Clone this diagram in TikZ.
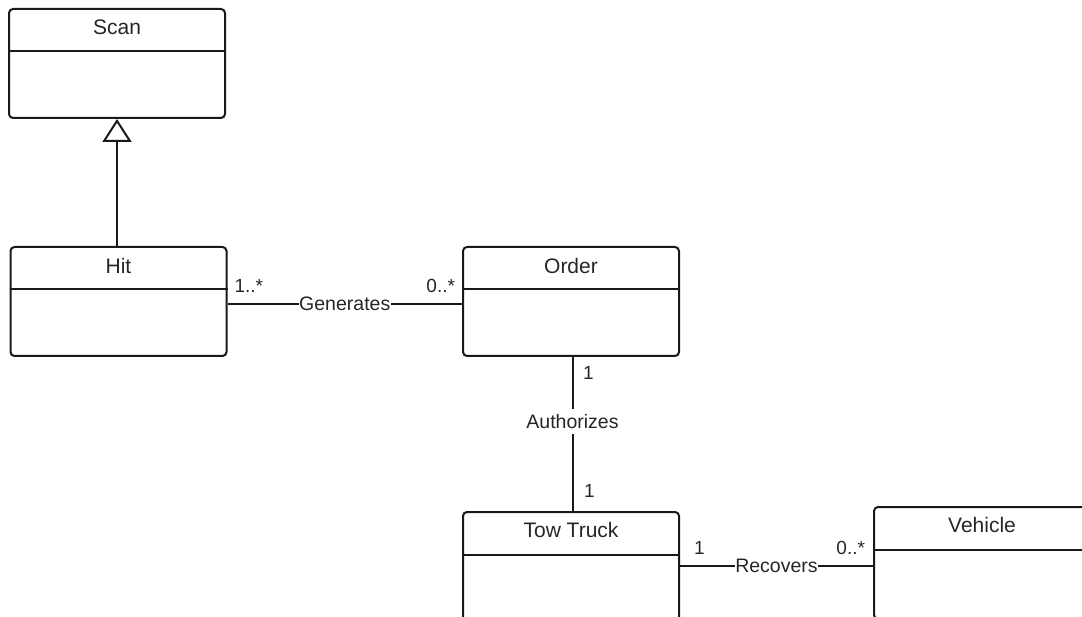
\documentclass[tikz,border=0pt]{standalone}
\usepackage{fontspec}
\setmainfont{Liberation Sans}
\usetikzlibrary{arrows.meta,calc}

\begin{document}
\begin{tikzpicture}[x=1pt,y=-1pt,
    line width=2pt,
    every node/.style={text=black!85},
    umlclass/.style={draw=black!90, rounded corners=4pt, minimum width=216pt,
                     minimum height=109pt, inner sep=0pt},
    classname/.style={font=\fontsize{21}{25}\selectfont, inner sep=0pt},
    assoc/.style={draw=black!90},
    assoclabel/.style={fill=white, font=\fontsize{19.5}{23}\selectfont,
                       inner xsep=0.3pt, inner ysep=5.5pt},
    mult/.style={font=\fontsize{19}{22}\selectfont, inner sep=0pt},
    inherit/.style={draw=black!90, -{Triangle[open, length=23pt, width=29pt, line width=2pt]}}
  ]
  \useasboundingbox (0,0) rectangle (1082,617);

  % class boxes
  \node[umlclass] (scan)    at (117,63.5)  {};
  \node[umlclass] (hit)     at (118.5,301.5) {};
  \node[umlclass] (order)   at (571,301.5) {};
  \node[umlclass] (tow)     at (571,566.5) {};
  \node[umlclass, minimum height=112pt] (vehicle) at (982,563) {};

  % compartment dividers
  \foreach \c in {scan,hit,order,tow,vehicle}{
    \draw[draw=black!90] ($(\c.north west)+(0,43.5)$) -- ($(\c.north east)+(0,43.5)$);
  }

  % class names
  \node[classname] (scanname)    at ($(scan.north)+(0,19.5)$)    {Scan};
  \node[classname] (hitname)     at ($(hit.north)+(0,20)$)       {Hit};
  \node[classname] (ordername)   at ($(order.north)+(0,20)$)     {Order};
  \node[classname] (towname)     at ($(tow.north)+(0,18.5)$)     {Tow Truck};
  \node[classname] (vehiclename) at ($(vehicle.north)+(0,19)$)   {Vehicle};

  % generalization Hit -> Scan
  \draw[inherit] (scan.south |- hit.north) -- (scan.south);

  % associations
  \draw[assoc] ($(hit.east)+(0,2.5)$) -- node[assoclabel] (gen) {Generates} ($(order.west)+(0,2.5)$);
  \draw[assoc] ($(order.south)+(1.5,0)$) -- node[assoclabel, pos=0.42] (auth) {Authorizes} ($(tow.north)+(1.5,0)$);
  \draw[assoc] (tow.east |- 0,566) -- node[assoclabel] (rec) {Recovers} (vehicle.west |- 0,566);

  % multiplicities
  \node[mult, anchor=west] (m1) at ($(hit.east)+(6,-15.5)$)     {1..*};
  \node[mult, anchor=east] (m2) at ($(order.west)+(-6,-15.5)$)  {0..*};
  \node[mult, anchor=west] (m3) at ($(order.south)+(11,16)$)    {1};
  \node[mult, anchor=west] (m4) at ($(tow.north)+(12,-20)$)     {1};
  \node[mult, anchor=west] (m5) at ($(tow.east)+(13,-18.5)$)    {1};
  \node[mult, anchor=east] (m6) at ($(vehicle.west)+(-7,-15)$)  {0..*};
\end{tikzpicture}
\end{document}
